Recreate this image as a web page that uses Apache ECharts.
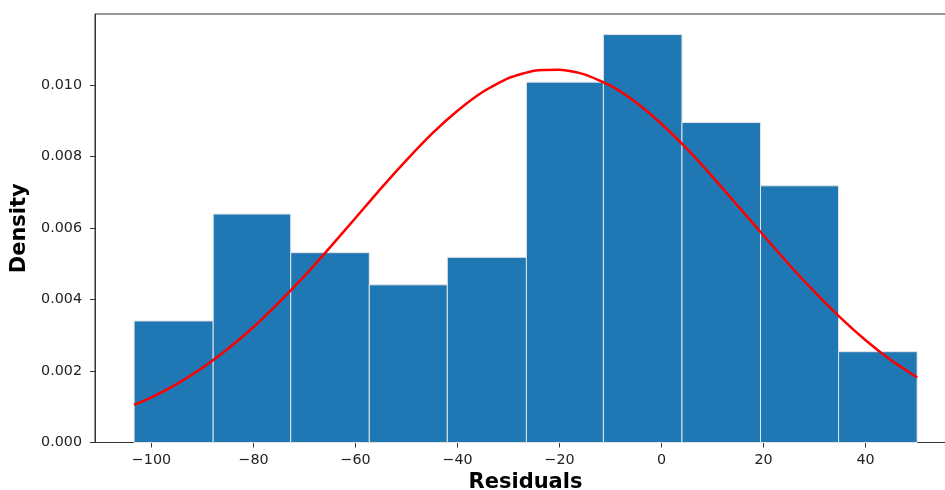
<!DOCTYPE html>
<html>
<head>
<meta charset="utf-8">
<script src="https://cdn.jsdelivr.net/npm/echarts@6/dist/echarts.min.js"></script>
<style>
html,body{margin:0;padding:0;background:#fff;}
#chart{width:945px;height:490px;}
</style>
</head>
<body>
<div id="chart"></div>
<script>
// Histogram bin edges (residual values)
const binEdges = [-103.4, -87.9, -72.7, -57.3, -42.0, -26.5, -11.4, 4.0, 19.4, 34.7, 50.1];
// Density of each bin
const binDensity = [0.00340, 0.00639, 0.00531, 0.00441, 0.00518, 0.01008, 0.01141, 0.00895, 0.00718, 0.00254];
// Red fitted curve
const curveX = [-103.4, -100, -95, -90, -85, -80, -75, -70, -65, -60, -55, -50, -45, -40, -35, -30, -25, -20, -15, -10, -5, 0, 5, 10, 15, 20, 25, 30, 35, 40, 45, 50.1];
const curveY = [0.00105, 0.00126, 0.00164, 0.00209, 0.00262, 0.00323, 0.00392, 0.00466, 0.00546, 0.00628, 0.00711, 0.00790, 0.00864, 0.00928, 0.00981, 0.01019, 0.01040, 0.01043, 0.01029, 0.00998, 0.00951, 0.00891, 0.00821, 0.00743, 0.00661, 0.00579, 0.00498, 0.00421, 0.00350, 0.00286, 0.00230, 0.00182];
// Tick labels
const xTicks = [-100, -80, -60, -40, -20, 0, 20, 40];
const yTicks = [0, 0.002, 0.004, 0.006, 0.008, 0.010];

const bars = binDensity.map((d, i) => [binEdges[i], binEdges[i + 1], d]);
const curve = curveX.map((x, i) => [x, curveY[i]]);

const FONT = 'DejaVu Sans';
const chart = echarts.init(document.getElementById('chart'), null, {renderer: 'canvas'});
chart.setOption({
  animation: false,
  backgroundColor: '#ffffff',
  grid: {left: 95, top: 14, right: -11, bottom: 47.5, outerBoundsMode: 'none', containLabel: false,
    show: true, borderColor: '#333', borderWidth: 1, backgroundColor: 'transparent'},
  xAxis: {
    type: 'value', min: -111.07, max: 57.72,
    name: 'Residuals', nameLocation: 'middle', nameGap: 27,
    nameTextStyle: {fontFamily: FONT, fontWeight: 'bold', fontSize: 21, color: '#000'},
    axisLine: {show: true, onZero: false, lineStyle: {color: '#333', width: 1}},
    axisTick: {show: true, length: 5, customValues: xTicks, lineStyle: {color: '#333'}},
    axisLabel: {customValues: xTicks, margin: 11, fontFamily: FONT, fontSize: 14.3, color: '#222',
      formatter: v => (v < 0 ? '\u2212' + Math.abs(v) : String(v))},
    splitLine: {show: false}
  },
  yAxis: {
    type: 'value', min: 0, max: 0.011986, interval: 0.002,
    name: 'Density', nameLocation: 'middle', nameGap: 52, nameRotate: 90,
    nameTextStyle: {fontFamily: FONT, fontWeight: 'bold', fontSize: 21, color: '#000'},
    axisLine: {show: true, onZero: false, lineStyle: {color: '#333', width: 1}},
    axisTick: {show: true, length: 5, customValues: yTicks, lineStyle: {color: '#333'}},
    axisLabel: {customValues: yTicks, margin: 13, fontFamily: FONT, fontSize: 14.3, color: '#222',
      formatter: v => v.toFixed(3)},
    splitLine: {show: false}
  },
  series: [
    {
      type: 'custom',
      data: bars,
      encode: {x: [0, 1], y: 2},
      renderItem: function (params, api) {
        const p0 = api.coord([api.value(0), api.value(2)]);
        const p1 = api.coord([api.value(1), 0]);
        return {
          type: 'rect',
          shape: {x: p0[0], y: p0[1], width: p1[0] - p0[0], height: p1[1] - p0[1]},
          style: {fill: '#1f77b4', stroke: '#e4e4e4', lineWidth: 1}
        };
      },
      z: 2
    },
    {
      type: 'line',
      data: curve,
      smooth: 0.2,
      showSymbol: false,
      lineStyle: {color: '#ff0000', width: 2.5},
      z: 3
    }
  ]
});
</script>
</body>
</html>
